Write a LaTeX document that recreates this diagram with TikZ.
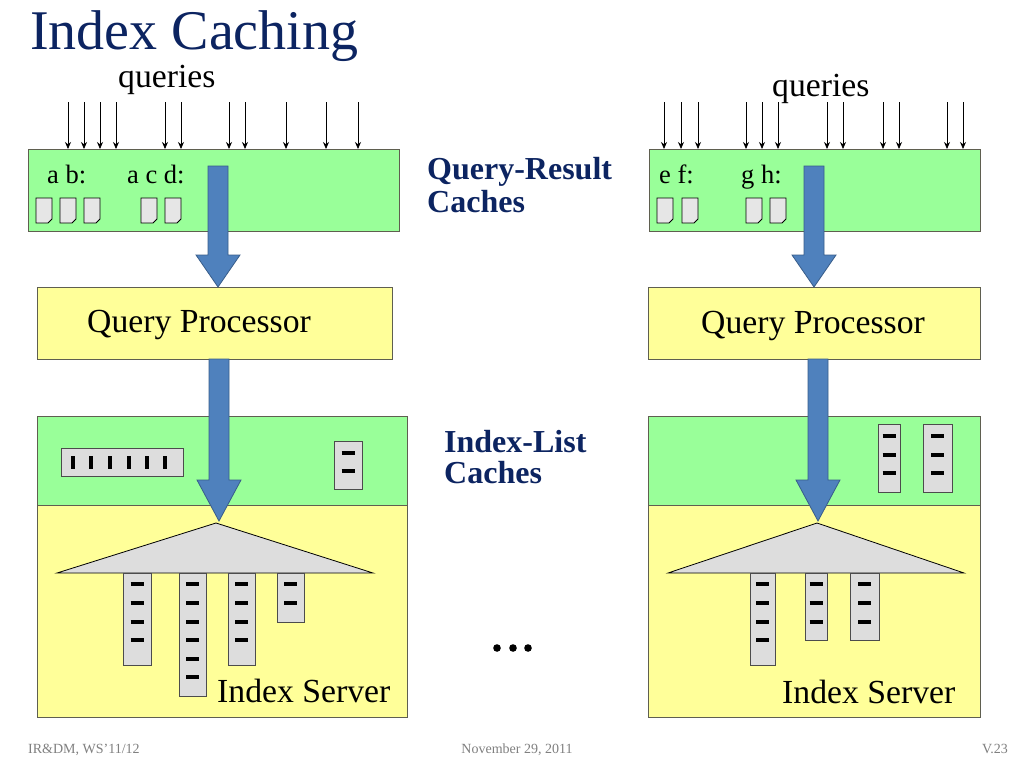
\documentclass[tikz,border=0pt]{standalone}
\usepackage{fontspec}
\setmainfont{Liberation Serif}
\usetikzlibrary{arrows.meta}
\definecolor{cgreen}{RGB}{153,255,153}
\definecolor{cyellow}{RGB}{255,255,153}
\definecolor{cblue}{RGB}{79,129,189}
\definecolor{cblueline}{RGB}{56,93,138}
\definecolor{cgray}{RGB}{221,221,221}
\definecolor{cdoc}{RGB}{230,230,230}
\definecolor{cborder}{RGB}{95,95,80}
\definecolor{ctitle}{RGB}{12,36,97}
\definecolor{cfoot}{RGB}{128,128,128}
\tikzset{
  greenbox/.style={draw=cborder, fill=cgreen, line width=1pt, anchor=north west, inner sep=0pt},
  yellowbox/.style={draw=cborder, fill=cyellow, line width=1pt, anchor=north west, inner sep=0pt},
  qarrow/.style={-{Stealth[length=7pt,width=6pt]}, line width=0.8pt},
  bigarrow/.style={fill=cblue, draw=cblueline, line width=0.8pt},
  listbox/.style={fill=cgray, draw=black!70, line width=0.8pt},
  dashmark/.style={line width=3.8pt},
  docicon/.style={fill=cdoc, draw=black, line width=0.8pt},
  txt/.style={inner sep=0pt, anchor=base west, font=\fontsize{33.7}{36}\selectfont},
  smalltxt/.style={inner sep=0pt, anchor=base west, font=\fontsize{26.5}{28}\selectfont},
  bluelabel/.style={inner sep=0pt, anchor=base west, text=ctitle, font=\fontsize{32}{34}\selectfont\bfseries},
  foot/.style={inner sep=0pt, anchor=base, text=cfoot, font=\fontsize{14}{16}\selectfont},
}
\newcommand{\BigArrow}[4]{% cx, ytop, yhead, ytip
  \filldraw[bigarrow] ({#1-10},#2) -- ({#1+10},#2) -- ({#1+10},#3) -- ({#1+22},#3) -- (#1,#4) -- ({#1-22},#3) -- ({#1-10},#3) -- cycle;}
\newcommand{\VList}[5]{% x0,x1,y0,y1,dash ys
  \filldraw[listbox] (#1,#3) rectangle (#2,#4);
  \foreach \yy in {#5} {\draw[dashmark] ({(#1+#2)/2-6.5},\yy) -- ({(#1+#2)/2+6.5},\yy);}}
\newcommand{\DocIcon}[1]{% x0
  \filldraw[docicon] (#1,198) -- ({#1+16},198) -- ({#1+16},219) -- ({#1+12},223) -- (#1,223) -- cycle;}
\begin{document}
\begin{tikzpicture}[x=1pt,y=-1pt]
\useasboundingbox[fill=white] (0,0) rectangle (1024,768);
% title
\node[inner sep=0pt, anchor=base west, text=ctitle, font=\fontsize{56}{60}\selectfont] (title) at (30,49) {Index Caching};
% ---------------- left column
\node[txt] (q1) at (118,87) {queries};
\node[greenbox, minimum width=371pt, minimum height=82pt] (qrc1) at (28,149) {};
\foreach \x in {68,84,100,116,165,181,229,245,286,326,358}
  \draw[qarrow] (\x,102) -- (\x,102 |- qrc1.north);
\node[smalltxt] (ab) at (47,183) {a b:};
\node[smalltxt] (acd) at (127,183) {a c d:};
\foreach \x in {36,60,84,141,165} \DocIcon{\x}
\node[yellowbox, minimum width=355pt, minimum height=72pt] (qp1) at (37,287) {};
\node[txt] (qp1t) at (87,332) {Query Processor};
\node[greenbox, minimum width=370pt, minimum height=89pt] (ilc1) at (37,416) {};
\node[yellowbox, minimum width=370pt, minimum height=212pt] (is1) at (37,505) {};
\BigArrow{218}{166}{255}{287}
\BigArrow{219}{359}{480}{521}
% horizontal cached list
\filldraw[listbox] (61,448) rectangle (183,476);
\foreach \x in {73,91,110,129,147,165} \draw[line width=3.8pt] (\x,456) -- (\x,469);
\VList{334}{362}{441}{489}{453,471}
% tree
\filldraw[fill=cgray, draw=black, line width=0.8pt] (216,523) -- (373,573) -- (57,573) -- cycle;
\VList{123}{151}{573}{665}{584,603,622,640}
\VList{179}{206}{573}{696}{584,603,622,640,659,677}
\VList{228}{255}{573}{665}{584,603,622,640}
\VList{277}{304}{573}{622}{584,603}
\node[txt] (is1t) at (217,702) {Index Server};
% ---------------- middle labels
\node[bluelabel] (qrl1) at (427,179) {Query-Result};
\node[bluelabel] (qrl2) at (427,212) {Caches};
\node[bluelabel] (ill1) at (444,452) {Index-List};
\node[bluelabel] (ill2) at (444,483) {Caches};
\foreach \x in {497,513,528} \fill (\x,648) circle (3.8pt);
% ---------------- right column
\node[txt] (q2) at (772,96) {queries};
\node[greenbox, minimum width=331pt, minimum height=82pt] (qrc2) at (649,149) {};
\foreach \x in {664,681,698,746,762,778,827,843,883,899,947,963}
  \draw[qarrow] (\x,102) -- (\x,102 |- qrc2.north);
\node[smalltxt] (ef) at (659,183) {e f:};
\node[smalltxt] (gh) at (741,183) {g h:};
\foreach \x in {657,682,746,770} \DocIcon{\x}
\node[yellowbox, minimum width=332pt, minimum height=72pt] (qp2) at (648,287) {};
\node[txt] (qp2t) at (701,333) {Query Processor};
\node[greenbox, minimum width=332pt, minimum height=89pt] (ilc2) at (648,416) {};
\node[yellowbox, minimum width=332pt, minimum height=212pt] (is2) at (648,505) {};
\BigArrow{814}{166}{255}{287}
\BigArrow{818}{359}{480}{521}
\VList{878}{900}{424}{492}{436,455,473}
\VList{923}{952}{424}{492}{436,455,473}
\filldraw[fill=cgray, draw=black, line width=0.8pt] (817,523) -- (964,573) -- (668,573) -- cycle;
\VList{750}{775}{573}{665}{584,603,622,640}
\VList{805}{827}{573}{640}{584,603,622}
\VList{850}{879}{573}{640}{584,603,622}
\node[txt] (is2t) at (782,703) {Index Server};
% ---------------- footer
\node[foot, anchor=base west] (f1) at (28,753) {IR\&DM, WS'11/12};
\node[foot] (f2) at (517,753) {November 29, 2011};
\node[foot, anchor=base east] (f3) at (1008,753) {V.23};
\end{tikzpicture}
\end{document}
